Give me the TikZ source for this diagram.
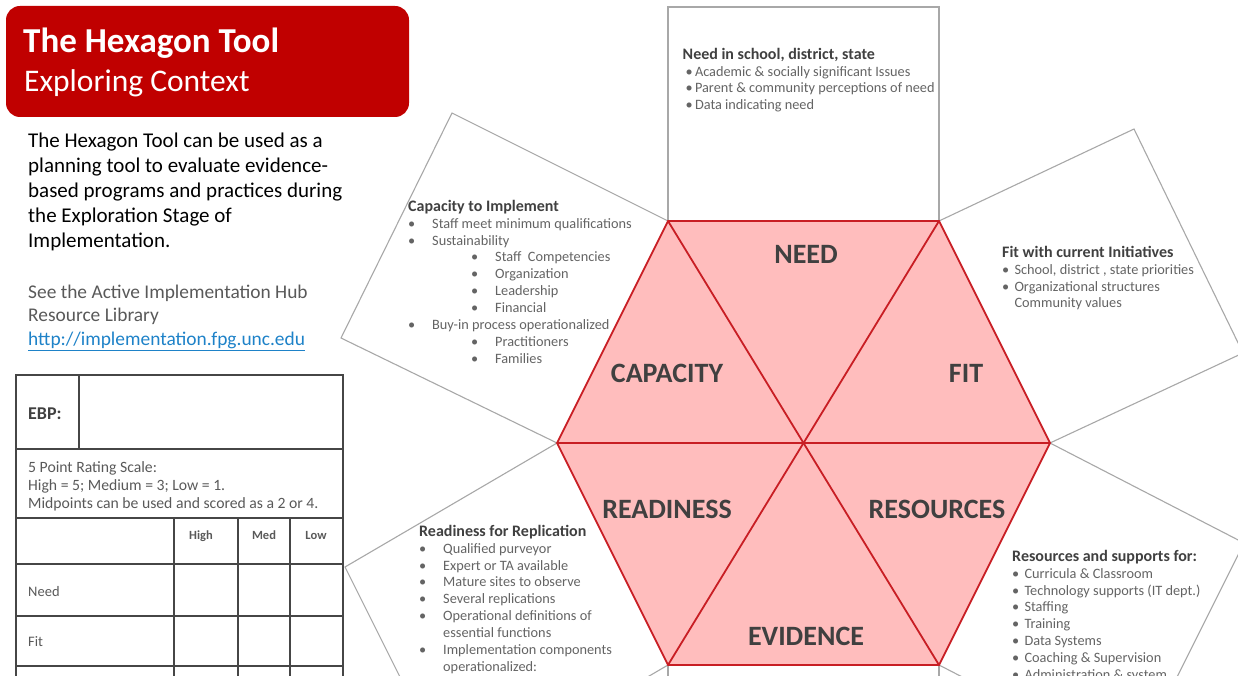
\documentclass[tikz,border=0pt]{standalone}
\usepackage{fontspec}
\setmainfont{Carlito}
\definecolor{titlered}{RGB}{192,0,0}
\definecolor{hexfill}{RGB}{255,189,189}
\definecolor{hexline}{RGB}{200,30,36}
\definecolor{panelline}{RGB}{168,168,168}
\definecolor{headgray}{RGB}{64,64,64}
\definecolor{bodygray}{RGB}{100,100,100}
\definecolor{tablegray}{RGB}{89,89,89}
\definecolor{tableline}{RGB}{70,70,70}
\definecolor{linkblue}{RGB}{30,130,200}
% bullet at indent #1, text starting #2 after the bullet
\newcommand{\pbul}[2]{\hspace*{#1}\makebox[#2][l]{•}}
\newcommand{\phead}[1]{\rule{0pt}{14pt}\textcolor{headgray}{\fontsize{16}{16.9}\selectfont\textbf{#1}}}
\begin{document}
\begin{tikzpicture}[x=1pt,y=-1pt,
  panel/.style={draw=panelline,line width=1.1pt,fill=white,line join=miter},
  hexedge/.style={draw=hexline,line width=1.8pt,line join=miter},
  hexlabel/.style={inner sep=0pt,text=headgray,font=\fontsize{28}{30}\selectfont\bfseries},
  paneltext/.style={anchor=north west,inner sep=0pt,align=left,text=bodygray,
    font=\fontsize{14.3}{16.9}\selectfont},
  tabletext/.style={inner sep=0pt,text=tablegray,font=\fontsize{14.5}{18}\selectfont},
  tablehead/.style={inner sep=0pt,text=tablegray,font=\fontsize{12.5}{14}\selectfont\bfseries},
  tablerule/.style={draw=tableline,line width=1.6pt}]
\useasboundingbox (0,0) rectangle (1238,676);
\clip (0,0) rectangle (1238,676);

% hexagon corners
\coordinate (hTL) at (668,221);
\coordinate (hTR) at (939,221);
\coordinate (hL)  at (557,443);
\coordinate (hR)  at (1050,443);
\coordinate (hBL) at (668,665);
\coordinate (hBR) at (939,665);
\coordinate (hC)  at (803.5,443);

% outer corners of the six panels
\coordinate (pT1) at (668,7);     \coordinate (pT2) at (939,7);
\coordinate (pUL1) at (452,113);  \coordinate (pUL2) at (341,338);
\coordinate (pUR1) at (1134,129); \coordinate (pUR2) at (1243,353);
\coordinate (pLL1) at (345,567);  \coordinate (pLL2) at (456,789);
\coordinate (pLR1) at (1244,543); \coordinate (pLR2) at (1133,765);
\coordinate (pB1) at (668,900);   \coordinate (pB2) at (939,900);

% panels
\draw[panel] (hTL) -- (pT1) -- (pT2) -- (hTR);
\draw[panel] (hTL) -- (pUL1) -- (pUL2) -- (hL);
\draw[panel] (hTR) -- (pUR1) -- (pUR2) -- (hR);
\draw[panel] (hL) -- (pLL1) -- (pLL2) -- (hBL);
\draw[panel] (hR) -- (pLR1) -- (pLR2) -- (hBR);
\draw[panel] (hBL) -- (pB1) -- (pB2) -- (hBR);

% hexagon split into six triangles
\fill[hexfill] (hTL) -- (hTR) -- (hR) -- (hBR) -- (hBL) -- (hL) -- cycle;
\draw[hexedge] (hTL) -- (hTR) -- (hR) -- (hBR) -- (hBL) -- (hL) -- cycle;
\draw[hexedge] (hTL) -- (hBR);
\draw[hexedge] (hTR) -- (hBL);
\draw[hexedge] (hL) -- (hR);

\node[hexlabel] (need)      at (806,254) {NEED};
\node[hexlabel] (capacity)  at (667,373) {CAPACITY};
\node[hexlabel] (fit)       at (966,373) {FIT};
\node[hexlabel] (readiness) at (667,509) {READINESS};
\node[hexlabel] (resources) at (937,509) {RESOURCES};
\node[hexlabel] (evidence)  at (806,636) {EVIDENCE};

% panel texts
\node[paneltext] (needtxt) at (682.5,45) {\phead{Need in school, district, state}\\
  \pbul{3pt}{9.3pt}Academic \& socially significant Issues\\
  \pbul{3pt}{9.3pt}Parent \& community perceptions of need\\
  \pbul{3pt}{9.3pt}Data indicating need};

\node[paneltext] (captxt) at (408,197) {\phead{Capacity to Implement}\\
  \pbul{0pt}{24pt}Staff meet minimum qualifications\\
  \pbul{0pt}{24pt}Sustainability\\
  \pbul{63pt}{24pt}Staff\ \ Competencies\\
  \pbul{63pt}{24pt}Organization\\
  \pbul{63pt}{24pt}Leadership\\
  \pbul{63pt}{24pt}Financial\\
  \pbul{0pt}{24pt}Buy-in process operationalized\\
  \pbul{63pt}{24pt}Practitioners\\
  \pbul{63pt}{24pt}Families};

\node[paneltext] (fittxt) at (1002,243) {\phead{Fit with current Initiatives}\\
  \pbul{0pt}{12.3pt}School, district , state priorities\\
  \pbul{0pt}{12.3pt}Organizational structures\\
  \hspace*{12.3pt}Community values};

\node[paneltext] (readytxt) at (419,522) {\phead{Readiness for Replication}\\
  \pbul{0pt}{24pt}Qualified purveyor\\
  \pbul{0pt}{24pt}Expert or TA available\\
  \pbul{0pt}{24pt}Mature sites to observe\\
  \pbul{0pt}{24pt}Several replications\\
  \pbul{0pt}{24pt}Operational definitions of\\
  \hspace*{24pt}essential functions\\
  \pbul{0pt}{24pt}Implementation components\\
  \hspace*{24pt}operationalized:};

\node[paneltext] (restxt) at (1012,547) {\phead{Resources and supports for:}\\
  \pbul{0pt}{12.3pt}Curricula \& Classroom\\
  \pbul{0pt}{12.3pt}Technology supports (IT dept.)\\
  \pbul{0pt}{12.3pt}Staffing\\
  \pbul{0pt}{12.3pt}Training\\
  \pbul{0pt}{12.3pt}Data Systems\\
  \pbul{0pt}{12.3pt}Coaching \& Supervision\\
  \pbul{0pt}{12.3pt}Administration \& system};

% title banner
\draw[fill=titlered,draw=none,rounded corners=14pt] (6,6) rectangle (409,117);
\node[anchor=base west,inner sep=0pt,text=white,font=\fontsize{35}{38}\selectfont\bfseries]
  (title) at (23,53) {The Hexagon Tool};
\node[anchor=base west,inner sep=0pt,text=white,font=\fontsize{31.5}{34}\selectfont]
  (subtitle) at (24,92) {Exploring Context};

% introduction
\node[anchor=north west,inner sep=0pt,align=left,text=black,font=\fontsize{21}{25}\selectfont]
  (intro) at (28,128) {\rule{0pt}{19pt}The Hexagon Tool can be used as a\\
  planning tool to evaluate evidence-\\
  based programs and practices during\\
  the Exploration Stage of\\
  Implementation.};
\node[anchor=north west,inner sep=0pt,align=left,text=tablegray,font=\fontsize{19.4}{23.5}\selectfont]
  (library) at (28,280) {\rule{0pt}{18pt}See the Active Implementation Hub\\
  Resource Library\\
  \textcolor{linkblue}{\underline{http://implementation.fpg.unc.edu}}};

% rating table
\draw[tablerule] (16,375) rectangle (343,760);
\draw[tablerule] (16,449) -- (343,449);
\draw[tablerule] (16,518) -- (343,518);
\draw[tablerule] (16,564) -- (343,564);
\draw[tablerule] (16,616) -- (343,616);
\draw[tablerule] (16,666) -- (343,666);
\draw[tablerule] (16,716) -- (343,716);
\draw[tablerule] (79,375) -- (79,449);
\draw[tablerule] (174,518) -- (174,760);
\draw[tablerule] (238,518) -- (238,760);
\draw[tablerule] (290,518) -- (290,760);

\node[anchor=base west,inner sep=0pt,text=headgray,font=\fontsize{18}{20}\selectfont\bfseries]
  (ebp) at (28,419) {EBP:};
\node[tabletext,anchor=north west,align=left,font=\fontsize{15.7}{18}\selectfont] (scale) at (28,458)
  {\rule{0pt}{14pt}5 Point Rating Scale:\\
  High = 5; Medium = 3; Low = 1.\\
  Midpoints can be used and scored as a 2 or 4.};
\node[tablehead,anchor=base] (high) at (201,539) {High};
\node[tablehead,anchor=base] (med)  at (264,539) {Med};
\node[tablehead,anchor=base] (low)  at (316,539) {Low};
\node[tabletext,anchor=base west] (rneed) at (28,596) {Need};
\node[tabletext,anchor=base west] (rfit)  at (28,646) {Fit};
\end{tikzpicture}
\end{document}
